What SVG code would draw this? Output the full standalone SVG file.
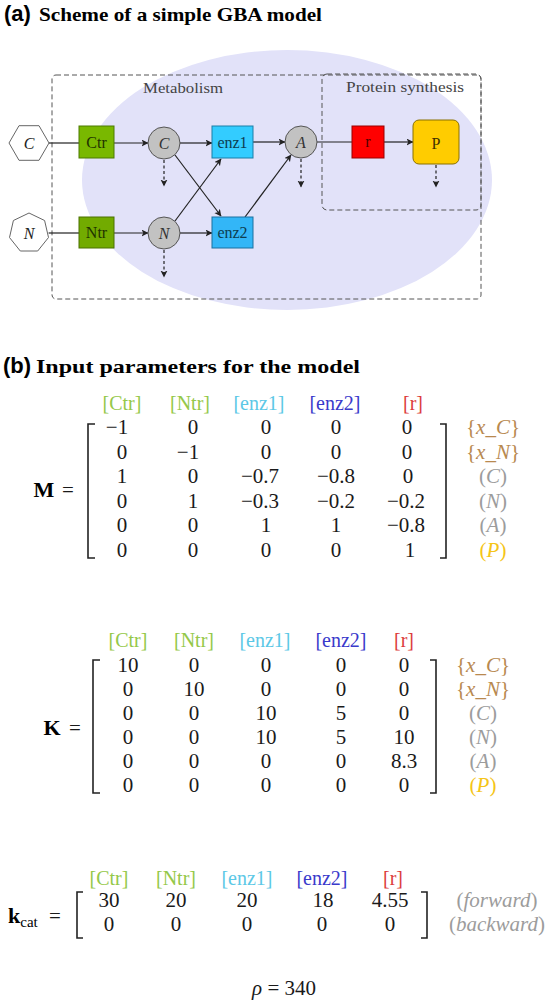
<svg xmlns="http://www.w3.org/2000/svg" width="550" height="1004" viewBox="0 0 550 1004">
<style>
.sans{font-family:"Liberation Sans",Arial,sans-serif;font-weight:bold}
.ser{font-family:"Liberation Serif","Times New Roman",serif}
.tb{font-family:"Liberation Serif","Times New Roman",serif;font-weight:bold}
.lab{font-family:"Liberation Serif","Times New Roman",serif;font-size:16px;text-anchor:middle}
.it{font-style:italic}
.edge{stroke:#222;stroke-width:1.2;fill:none}
.dash{stroke:#222;stroke-width:1.2;fill:none;stroke-dasharray:3,2.5}
.grp{fill:none;stroke:#555;stroke-width:1;stroke-dasharray:5,3}
.num{font-family:"Liberation Serif","Times New Roman",serif;font-size:21px;text-anchor:middle;fill:#1a1a1a}
.hd{font-size:20px}
.br{stroke:#222;stroke-width:1.6;fill:none}
.hg{fill:#95c84a}.hc{fill:#5cc8e6}.hb{fill:#3a3acb}.hr{fill:#dc3c3c}
.rb{fill:#b8894f}.rg{fill:#9c9c9c}.ry{fill:#f5c518}
</style>
<defs>
<marker id="ah" markerUnits="userSpaceOnUse" markerWidth="8" markerHeight="8" refX="6.5" refY="3.5" orient="auto">
<path d="M0,0 L7,3.5 L0,7 L1.8,3.5 z" fill="#222"/>
</marker>
</defs>
<rect width="550" height="1004" fill="#fff"/>

<g id="title-a">
<text class="sans" x="4" y="21" font-size="22">(a)</text>
<text class="tb" x="39" y="21" font-size="19" textLength="283" lengthAdjust="spacingAndGlyphs">Scheme of a simple GBA model</text>
</g>

<g id="cell-ellipse">
<ellipse cx="287" cy="180" rx="205" ry="130" fill="#e2e2f9"/>
</g>

<g id="metabolism">
<rect class="grp" x="52" y="75" width="429" height="224" rx="4"/>
<text class="ser" x="183" y="93" font-size="15" fill="#444" text-anchor="middle" textLength="80" lengthAdjust="spacingAndGlyphs">Metabolism</text>
</g>
<g id="protein-synthesis">
<rect class="grp" x="322" y="74" width="159" height="136" rx="5"/>
<text class="ser" x="405" y="92" font-size="15" fill="#444" text-anchor="middle" textLength="118" lengthAdjust="spacingAndGlyphs">Protein synthesis</text>
</g>

<g id="connectors">
<line class="edge" x1="49" y1="143" x2="79" y2="143"/>
<line class="edge" x1="114" y1="143" x2="148" y2="143" marker-end="url(#ah)"/>
<line class="edge" x1="180" y1="143" x2="212" y2="143" marker-end="url(#ah)"/>
<line class="edge" x1="175" y1="155" x2="221" y2="216" marker-end="url(#ah)"/>
<line class="edge" x1="175" y1="221" x2="221" y2="159" marker-end="url(#ah)"/>
<line class="edge" x1="48.6" y1="233" x2="79" y2="233"/>
<line class="edge" x1="114" y1="233" x2="148" y2="233" marker-end="url(#ah)"/>
<line class="edge" x1="180" y1="233" x2="212" y2="233" marker-end="url(#ah)"/>
<line class="edge" x1="253" y1="142" x2="285" y2="142" marker-end="url(#ah)"/>
<line class="edge" x1="245" y1="217" x2="291" y2="155" marker-end="url(#ah)"/>
<line class="edge" x1="317" y1="142" x2="352" y2="142"/>
<line class="edge" x1="384" y1="142" x2="413" y2="142" marker-end="url(#ah)"/>
<line class="dash" x1="164" y1="160" x2="164" y2="186" marker-end="url(#ah)"/>
<line class="dash" x1="164" y1="250" x2="164" y2="277" marker-end="url(#ah)"/>
<line class="dash" x1="301" y1="159" x2="301" y2="187" marker-end="url(#ah)"/>
<line class="dash" x1="436" y1="165" x2="436" y2="187" marker-end="url(#ah)"/>
</g>

<g id="ext-C">
<polygon points="49,143 39,160.3 19,160.3 9,143 19,125.7 39,125.7" fill="#fff" stroke="#666" stroke-width="1"/>
<text class="lab it" x="29" y="149" font-size="17" fill="#222">C</text>
</g>
<g id="ext-N">
<polygon points="29,213 44.6,220.5 48.5,237.5 37.7,251 20.3,251 9.5,237.5 13.4,220.5" fill="#fff" stroke="#666" stroke-width="1"/>
<text class="lab it" x="29" y="239" font-size="17" fill="#222">N</text>
</g>
<g id="Ctr">
<rect x="79" y="126" width="35" height="32" fill="#79b800" stroke="#4d7a00"/>
<text class="lab" x="96.5" y="148" fill="#1f3300">Ctr</text>
</g>
<g id="Ntr">
<rect x="79" y="217" width="35" height="31" fill="#72ab00" stroke="#4a7000"/>
<text class="lab" x="96.5" y="238" fill="#1f3300">Ntr</text>
</g>
<g id="met-C">
<circle cx="164" cy="143" r="16" fill="#c2c2c2" stroke="#555"/>
<text class="lab it" x="164" y="149" font-size="17" fill="#333">C</text>
</g>
<g id="met-N">
<circle cx="164" cy="233" r="16" fill="#c2c2c2" stroke="#555"/>
<text class="lab it" x="164" y="239" font-size="17" fill="#333">N</text>
</g>
<g id="enz1">
<rect x="212" y="126" width="41" height="32" fill="#33ccff" stroke="#1a7fa8"/>
<text class="lab" x="232.5" y="148" fill="#0d3d50">enz1</text>
</g>
<g id="enz2">
<rect x="212" y="217" width="41" height="31" fill="#33b6f7" stroke="#1a70a0"/>
<text class="lab" x="232.5" y="238" fill="#0d3d50">enz2</text>
</g>
<g id="met-A">
<circle cx="301" cy="142" r="16" fill="#c2c2c2" stroke="#555"/>
<text class="lab it" x="301" y="148" font-size="17" fill="#333">A</text>
</g>
<g id="r">
<rect x="352" y="126" width="32" height="32" fill="#ff0000" stroke="#990000"/>
<text class="lab" x="368" y="147" fill="#4d0000">r</text>
</g>
<g id="P">
<rect x="413" y="120" width="46" height="44" rx="6" fill="#ffcc00" stroke="#8a7000"/>
<text class="lab" x="436" y="149" font-size="18" fill="#3d3000">P</text>
</g>

<g id="title-b">
<text class="sans" x="3" y="373" font-size="22">(b)</text>
<text class="tb" x="36" y="373" font-size="19" textLength="324" lengthAdjust="spacingAndGlyphs">Input parameters for the model</text>
</g>

<g id="matrix-M">
<text class="tb" x="44" y="497" font-size="22" text-anchor="middle">M</text>
<text class="num" x="68" y="497">=</text>
<text class="num hd hg" x="122" y="410">[Ctr]</text>
<text class="num hd hg" x="190" y="410">[Ntr]</text>
<text class="num hd hc" x="259" y="410">[enz1]</text>
<text class="num hd hb" x="335" y="410">[enz2]</text>
<text class="num hd hr" x="413" y="410">[r]</text>
<path class="br" d="M95,424 H88 V558 H95"/>
<path class="br" d="M440,424 H446 V558 H440"/>
<g>
<text class="num" x="117" y="434">−1</text><text class="num" x="193" y="434">0</text><text class="num" x="266" y="434">0</text><text class="num" x="336" y="434">0</text><text class="num" x="407" y="434">0</text>
<text class="num" x="122" y="459">0</text><text class="num" x="188" y="459">−1</text><text class="num" x="266" y="459">0</text><text class="num" x="336" y="459">0</text><text class="num" x="407" y="459">0</text>
<text class="num" x="122" y="483">1</text><text class="num" x="193" y="483">0</text><text class="num" x="260" y="483">−0.7</text><text class="num" x="336" y="483">−0.8</text><text class="num" x="408" y="483">0</text>
<text class="num" x="122" y="508">0</text><text class="num" x="193" y="508">1</text><text class="num" x="260" y="508">−0.3</text><text class="num" x="336" y="508">−0.2</text><text class="num" x="406" y="508">−0.2</text>
<text class="num" x="122" y="532">0</text><text class="num" x="193" y="532">0</text><text class="num" x="266" y="532">1</text><text class="num" x="336" y="532">1</text><text class="num" x="406" y="532">−0.8</text>
<text class="num" x="122" y="557">0</text><text class="num" x="193" y="557">0</text><text class="num" x="266" y="557">0</text><text class="num" x="336" y="557">0</text><text class="num" x="410" y="557">1</text>
</g>
<text class="num rb" x="493" y="434">{<tspan font-style="italic">x</tspan>_<tspan font-style="italic">C</tspan>}</text>
<text class="num rb" x="493" y="459">{<tspan font-style="italic">x</tspan>_<tspan font-style="italic">N</tspan>}</text>
<text class="num rg" x="493" y="483">(<tspan font-style="italic">C</tspan>)</text>
<text class="num rg" x="493" y="508">(<tspan font-style="italic">N</tspan>)</text>
<text class="num rg" x="493" y="532">(<tspan font-style="italic">A</tspan>)</text>
<text class="num ry" x="493" y="557">(<tspan font-style="italic">P</tspan>)</text>
</g>

<g id="matrix-K">
<text class="tb" x="52" y="735" font-size="22" text-anchor="middle">K</text>
<text class="num" x="75" y="735">=</text>
<text class="num hd hg" x="128" y="647">[Ctr]</text>
<text class="num hd hg" x="194" y="647">[Ntr]</text>
<text class="num hd hc" x="265" y="647">[enz1]</text>
<text class="num hd hb" x="341" y="647">[enz2]</text>
<text class="num hd hr" x="404" y="647">[r]</text>
<path class="br" d="M100,660 H93 V793 H100"/>
<path class="br" d="M430,660 H436 V793 H430"/>
<g>
<text class="num" x="128" y="672">10</text><text class="num" x="194" y="672">0</text><text class="num" x="266" y="672">0</text><text class="num" x="341" y="672">0</text><text class="num" x="404" y="672">0</text>
<text class="num" x="128" y="696">0</text><text class="num" x="194" y="696">10</text><text class="num" x="266" y="696">0</text><text class="num" x="341" y="696">0</text><text class="num" x="404" y="696">0</text>
<text class="num" x="128" y="720">0</text><text class="num" x="194" y="720">0</text><text class="num" x="266" y="720">10</text><text class="num" x="341" y="720">5</text><text class="num" x="404" y="720">0</text>
<text class="num" x="128" y="744">0</text><text class="num" x="194" y="744">0</text><text class="num" x="266" y="744">10</text><text class="num" x="341" y="744">5</text><text class="num" x="404" y="744">10</text>
<text class="num" x="128" y="768">0</text><text class="num" x="194" y="768">0</text><text class="num" x="266" y="768">0</text><text class="num" x="341" y="768">0</text><text class="num" x="404" y="768">8.3</text>
<text class="num" x="128" y="792">0</text><text class="num" x="194" y="792">0</text><text class="num" x="266" y="792">0</text><text class="num" x="341" y="792">0</text><text class="num" x="404" y="792">0</text>
</g>
<text class="num rb" x="483" y="672">{<tspan font-style="italic">x</tspan>_<tspan font-style="italic">C</tspan>}</text>
<text class="num rb" x="483" y="696">{<tspan font-style="italic">x</tspan>_<tspan font-style="italic">N</tspan>}</text>
<text class="num rg" x="483" y="720">(<tspan font-style="italic">C</tspan>)</text>
<text class="num rg" x="483" y="744">(<tspan font-style="italic">N</tspan>)</text>
<text class="num rg" x="483" y="768">(<tspan font-style="italic">A</tspan>)</text>
<text class="num ry" x="483" y="792">(<tspan font-style="italic">P</tspan>)</text>
</g>

<g id="vector-kcat">
<text class="tb" x="8" y="923" font-size="22">k<tspan font-weight="normal" font-size="15" dy="4">cat</tspan></text>
<text class="num" x="55" y="923">=</text>
<text class="num hd hg" x="109" y="885">[Ctr]</text>
<text class="num hd hg" x="176" y="885">[Ntr]</text>
<text class="num hd hc" x="247" y="885">[enz1]</text>
<text class="num hd hb" x="322" y="885">[enz2]</text>
<text class="num hd hr" x="393" y="885">[r]</text>
<path class="br" d="M83,892 H77 V938 H83"/>
<path class="br" d="M421,892 H427 V938 H421"/>
<text class="num" x="109" y="907">30</text><text class="num" x="176" y="907">20</text><text class="num" x="247" y="907">20</text><text class="num" x="323" y="907">18</text><text class="num" x="390" y="907">4.55</text>
<text class="num" x="109" y="931">0</text><text class="num" x="176" y="931">0</text><text class="num" x="247" y="931">0</text><text class="num" x="322" y="931">0</text><text class="num" x="390" y="931">0</text>
<text class="num rg" x="497" y="907">(<tspan font-style="italic">forward</tspan>)</text>
<text class="num rg" x="497" y="931">(<tspan font-style="italic">backward</tspan>)</text>
</g>

<g id="rho">
<text class="num" x="284" y="995"><tspan font-style="italic">ρ</tspan> = 340</text>
</g>
</svg>
